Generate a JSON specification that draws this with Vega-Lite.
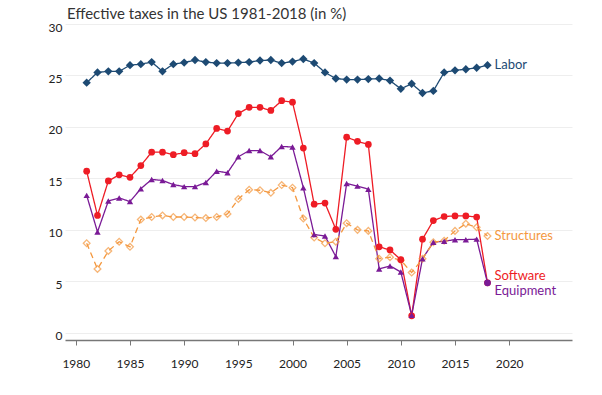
{
  "$schema": "https://vega.github.io/schema/vega-lite/v6.json",
  "width": 507,
  "height": 316,
  "autosize": {"type": "none"},
  "padding": {"left": 65, "top": 24, "right": 30, "bottom": 55},
  "background": "white",
  "title": {"text": "Effective taxes in the US 1981-2018 (in %)", "anchor": "start", "dx": 19, "offset": -1, "font": "Lato", "fontSize": 15, "fontWeight": "normal", "color": "#333333"},
  "config": {
    "view": {"stroke": null},
    "axis": {"labelFont": "Lato", "labelFontSize": 12, "labelColor": "#222222"}
  },
  "data": {"values": [
    {"year":1981,"series":"Labor","value":24.3},{"year":1982,"series":"Labor","value":25.3},{"year":1983,"series":"Labor","value":25.4},{"year":1984,"series":"Labor","value":25.4},{"year":1985,"series":"Labor","value":26.0},{"year":1986,"series":"Labor","value":26.1},{"year":1987,"series":"Labor","value":26.3},{"year":1988,"series":"Labor","value":25.4},{"year":1989,"series":"Labor","value":26.1},{"year":1990,"series":"Labor","value":26.25},{"year":1991,"series":"Labor","value":26.5},{"year":1992,"series":"Labor","value":26.3},{"year":1993,"series":"Labor","value":26.2},{"year":1994,"series":"Labor","value":26.2},{"year":1995,"series":"Labor","value":26.25},{"year":1996,"series":"Labor","value":26.3},{"year":1997,"series":"Labor","value":26.45},{"year":1998,"series":"Labor","value":26.5},{"year":1999,"series":"Labor","value":26.2},{"year":2000,"series":"Labor","value":26.35},{"year":2001,"series":"Labor","value":26.6},{"year":2002,"series":"Labor","value":26.2},{"year":2003,"series":"Labor","value":25.3},{"year":2004,"series":"Labor","value":24.7},{"year":2005,"series":"Labor","value":24.6},{"year":2006,"series":"Labor","value":24.6},{"year":2007,"series":"Labor","value":24.65},{"year":2008,"series":"Labor","value":24.7},{"year":2009,"series":"Labor","value":24.5},{"year":2010,"series":"Labor","value":23.7},{"year":2011,"series":"Labor","value":24.2},{"year":2012,"series":"Labor","value":23.3},{"year":2013,"series":"Labor","value":23.5},{"year":2014,"series":"Labor","value":25.3},{"year":2015,"series":"Labor","value":25.5},{"year":2016,"series":"Labor","value":25.6},{"year":2017,"series":"Labor","value":25.75},{"year":2018,"series":"Labor","value":26.0},
    {"year":1981,"series":"Software","value":15.7},{"year":1982,"series":"Software","value":11.4},{"year":1983,"series":"Software","value":14.75},{"year":1984,"series":"Software","value":15.35},{"year":1985,"series":"Software","value":15.1},{"year":1986,"series":"Software","value":16.25},{"year":1987,"series":"Software","value":17.55},{"year":1988,"series":"Software","value":17.55},{"year":1989,"series":"Software","value":17.3},{"year":1990,"series":"Software","value":17.5},{"year":1991,"series":"Software","value":17.4},{"year":1992,"series":"Software","value":18.35},{"year":1993,"series":"Software","value":19.85},{"year":1994,"series":"Software","value":19.6},{"year":1995,"series":"Software","value":21.3},{"year":1996,"series":"Software","value":21.9},{"year":1997,"series":"Software","value":21.9},{"year":1998,"series":"Software","value":21.6},{"year":1999,"series":"Software","value":22.55},{"year":2000,"series":"Software","value":22.4},{"year":2001,"series":"Software","value":17.95},{"year":2002,"series":"Software","value":12.5},{"year":2003,"series":"Software","value":12.6},{"year":2004,"series":"Software","value":10.05},{"year":2005,"series":"Software","value":19.0},{"year":2006,"series":"Software","value":18.6},{"year":2007,"series":"Software","value":18.3},{"year":2008,"series":"Software","value":8.35},{"year":2009,"series":"Software","value":8.05},{"year":2010,"series":"Software","value":7.1},{"year":2011,"series":"Software","value":1.65},{"year":2012,"series":"Software","value":9.1},{"year":2013,"series":"Software","value":10.9},{"year":2014,"series":"Software","value":11.3},{"year":2015,"series":"Software","value":11.35},{"year":2016,"series":"Software","value":11.35},{"year":2017,"series":"Software","value":11.25},{"year":2018,"series":"Software","value":4.85},
    {"year":1981,"series":"Equipment","value":13.35},{"year":1982,"series":"Equipment","value":9.8},{"year":1983,"series":"Equipment","value":12.8},{"year":1984,"series":"Equipment","value":13.1},{"year":1985,"series":"Equipment","value":12.75},{"year":1986,"series":"Equipment","value":14.0},{"year":1987,"series":"Equipment","value":14.9},{"year":1988,"series":"Equipment","value":14.8},{"year":1989,"series":"Equipment","value":14.4},{"year":1990,"series":"Equipment","value":14.2},{"year":1991,"series":"Equipment","value":14.2},{"year":1992,"series":"Equipment","value":14.6},{"year":1993,"series":"Equipment","value":15.7},{"year":1994,"series":"Equipment","value":15.55},{"year":1995,"series":"Equipment","value":17.1},{"year":1996,"series":"Equipment","value":17.7},{"year":1997,"series":"Equipment","value":17.7},{"year":1998,"series":"Equipment","value":17.1},{"year":1999,"series":"Equipment","value":18.1},{"year":2000,"series":"Equipment","value":18.05},{"year":2001,"series":"Equipment","value":14.1},{"year":2002,"series":"Equipment","value":9.55},{"year":2003,"series":"Equipment","value":9.4},{"year":2004,"series":"Equipment","value":7.4},{"year":2005,"series":"Equipment","value":14.5},{"year":2006,"series":"Equipment","value":14.25},{"year":2007,"series":"Equipment","value":13.95},{"year":2008,"series":"Equipment","value":6.2},{"year":2009,"series":"Equipment","value":6.5},{"year":2010,"series":"Equipment","value":5.9},{"year":2011,"series":"Equipment","value":1.7},{"year":2012,"series":"Equipment","value":7.2},{"year":2013,"series":"Equipment","value":8.8},{"year":2014,"series":"Equipment","value":8.9},{"year":2015,"series":"Equipment","value":9.05},{"year":2016,"series":"Equipment","value":9.05},{"year":2017,"series":"Equipment","value":9.1},{"year":2018,"series":"Equipment","value":4.85},
    {"year":1981,"series":"Structures","value":8.7},{"year":1982,"series":"Structures","value":6.2},{"year":1983,"series":"Structures","value":7.95},{"year":1984,"series":"Structures","value":8.85},{"year":1985,"series":"Structures","value":8.35},{"year":1986,"series":"Structures","value":11.0},{"year":1987,"series":"Structures","value":11.25},{"year":1988,"series":"Structures","value":11.4},{"year":1989,"series":"Structures","value":11.25},{"year":1990,"series":"Structures","value":11.25},{"year":1991,"series":"Structures","value":11.2},{"year":1992,"series":"Structures","value":11.15},{"year":1993,"series":"Structures","value":11.25},{"year":1994,"series":"Structures","value":11.55},{"year":1995,"series":"Structures","value":13.0},{"year":1996,"series":"Structures","value":13.9},{"year":1997,"series":"Structures","value":13.85},{"year":1998,"series":"Structures","value":13.6},{"year":1999,"series":"Structures","value":14.35},{"year":2000,"series":"Structures","value":14.1},{"year":2001,"series":"Structures","value":11.1},{"year":2002,"series":"Structures","value":9.25},{"year":2003,"series":"Structures","value":8.7},{"year":2004,"series":"Structures","value":8.85},{"year":2005,"series":"Structures","value":10.65},{"year":2006,"series":"Structures","value":10.0},{"year":2007,"series":"Structures","value":9.9},{"year":2008,"series":"Structures","value":7.2},{"year":2009,"series":"Structures","value":7.35},{"year":2010,"series":"Structures","value":7.05},{"year":2011,"series":"Structures","value":5.85},{"year":2012,"series":"Structures","value":7.2},{"year":2013,"series":"Structures","value":8.8},{"year":2014,"series":"Structures","value":8.95},{"year":2015,"series":"Structures","value":9.9},{"year":2016,"series":"Structures","value":10.6},{"year":2017,"series":"Structures","value":10.25},{"year":2018,"series":"Structures","value":9.4}
  ]},
  "encoding": {
    "x": {"field": "year", "type": "quantitative", "scale": {"domain": [1979, 2025.8], "nice": false, "zero": false},
      "axis": {"values": [1980,1985,1990,1995,2000,2005,2010,2015,2020], "format": "d", "title": null, "grid": false, "domainColor": "#777777", "domainWidth": 1.3, "tickColor": "#777777", "tickSize": 5, "labelPadding": 13}},
    "y": {"field": "value", "type": "quantitative", "scale": {"domain": [-0.7, 30], "nice": false, "zero": false},
      "axis": {"values": [0,5,10,15,20,25,30], "title": null, "domain": false, "ticks": false, "labelPadding": 3, "labelOffset": 3, "gridColor": "#eeeeee", "gridWidth": 1}},
    "color": {"field": "series", "type": "nominal", "legend": null,
      "scale": {"domain": ["Labor","Software","Equipment","Structures"], "range": ["#1d4a73","#ee1c25","#7a1a96","#f4983f"]}}
  },
  "layer": [
    {"mark": {"type": "line", "strokeWidth": 1.3},
     "encoding": {"detail": {"field": "series"},
       "strokeDash": {"field": "series", "type": "nominal", "legend": null, "scale": {"domain": ["Labor","Software","Equipment","Structures"], "range": [[1,0],[1,0],[1,0],[6,4]]}}}},
    {"transform": [{"filter": "datum.series == 'Structures'"}],
     "mark": {"type": "point", "shape": "diamond", "filled": false, "size": 45, "strokeWidth": 1.3}},
    {"transform": [{"filter": "datum.series == 'Labor'"}],
     "mark": {"type": "point", "shape": "diamond", "filled": true, "size": 70, "opacity": 1}},
    {"transform": [{"filter": "datum.series == 'Software'"}],
     "mark": {"type": "point", "shape": "circle", "filled": true, "size": 45, "opacity": 1}},
    {"transform": [{"filter": "datum.series == 'Equipment' && datum.year < 2018"}],
     "mark": {"type": "point", "shape": "triangle-up", "filled": true, "size": 40, "opacity": 1}},
    {"transform": [{"filter": "datum.series == 'Equipment' && datum.year == 2018"}],
     "mark": {"type": "point", "shape": "circle", "filled": true, "size": 45, "opacity": 1}},
    {"transform": [{"filter": "datum.year == 2018 && (datum.series == 'Labor' || datum.series == 'Structures')"}],
     "mark": {"type": "text", "align": "left", "dx": 7, "font": "Lato", "fontSize": 13},
     "encoding": {"text": {"field": "series"}}},
    {"transform": [{"filter": "datum.year == 2018 && datum.series == 'Software'"}],
     "mark": {"type": "text", "align": "left", "dx": 7, "dy": -7, "font": "Lato", "fontSize": 13},
     "encoding": {"text": {"field": "series"}}},
    {"transform": [{"filter": "datum.year == 2018 && datum.series == 'Equipment'"}],
     "mark": {"type": "text", "align": "left", "dx": 7, "dy": 8, "font": "Lato", "fontSize": 13},
     "encoding": {"text": {"field": "series"}}}
  ]
}
